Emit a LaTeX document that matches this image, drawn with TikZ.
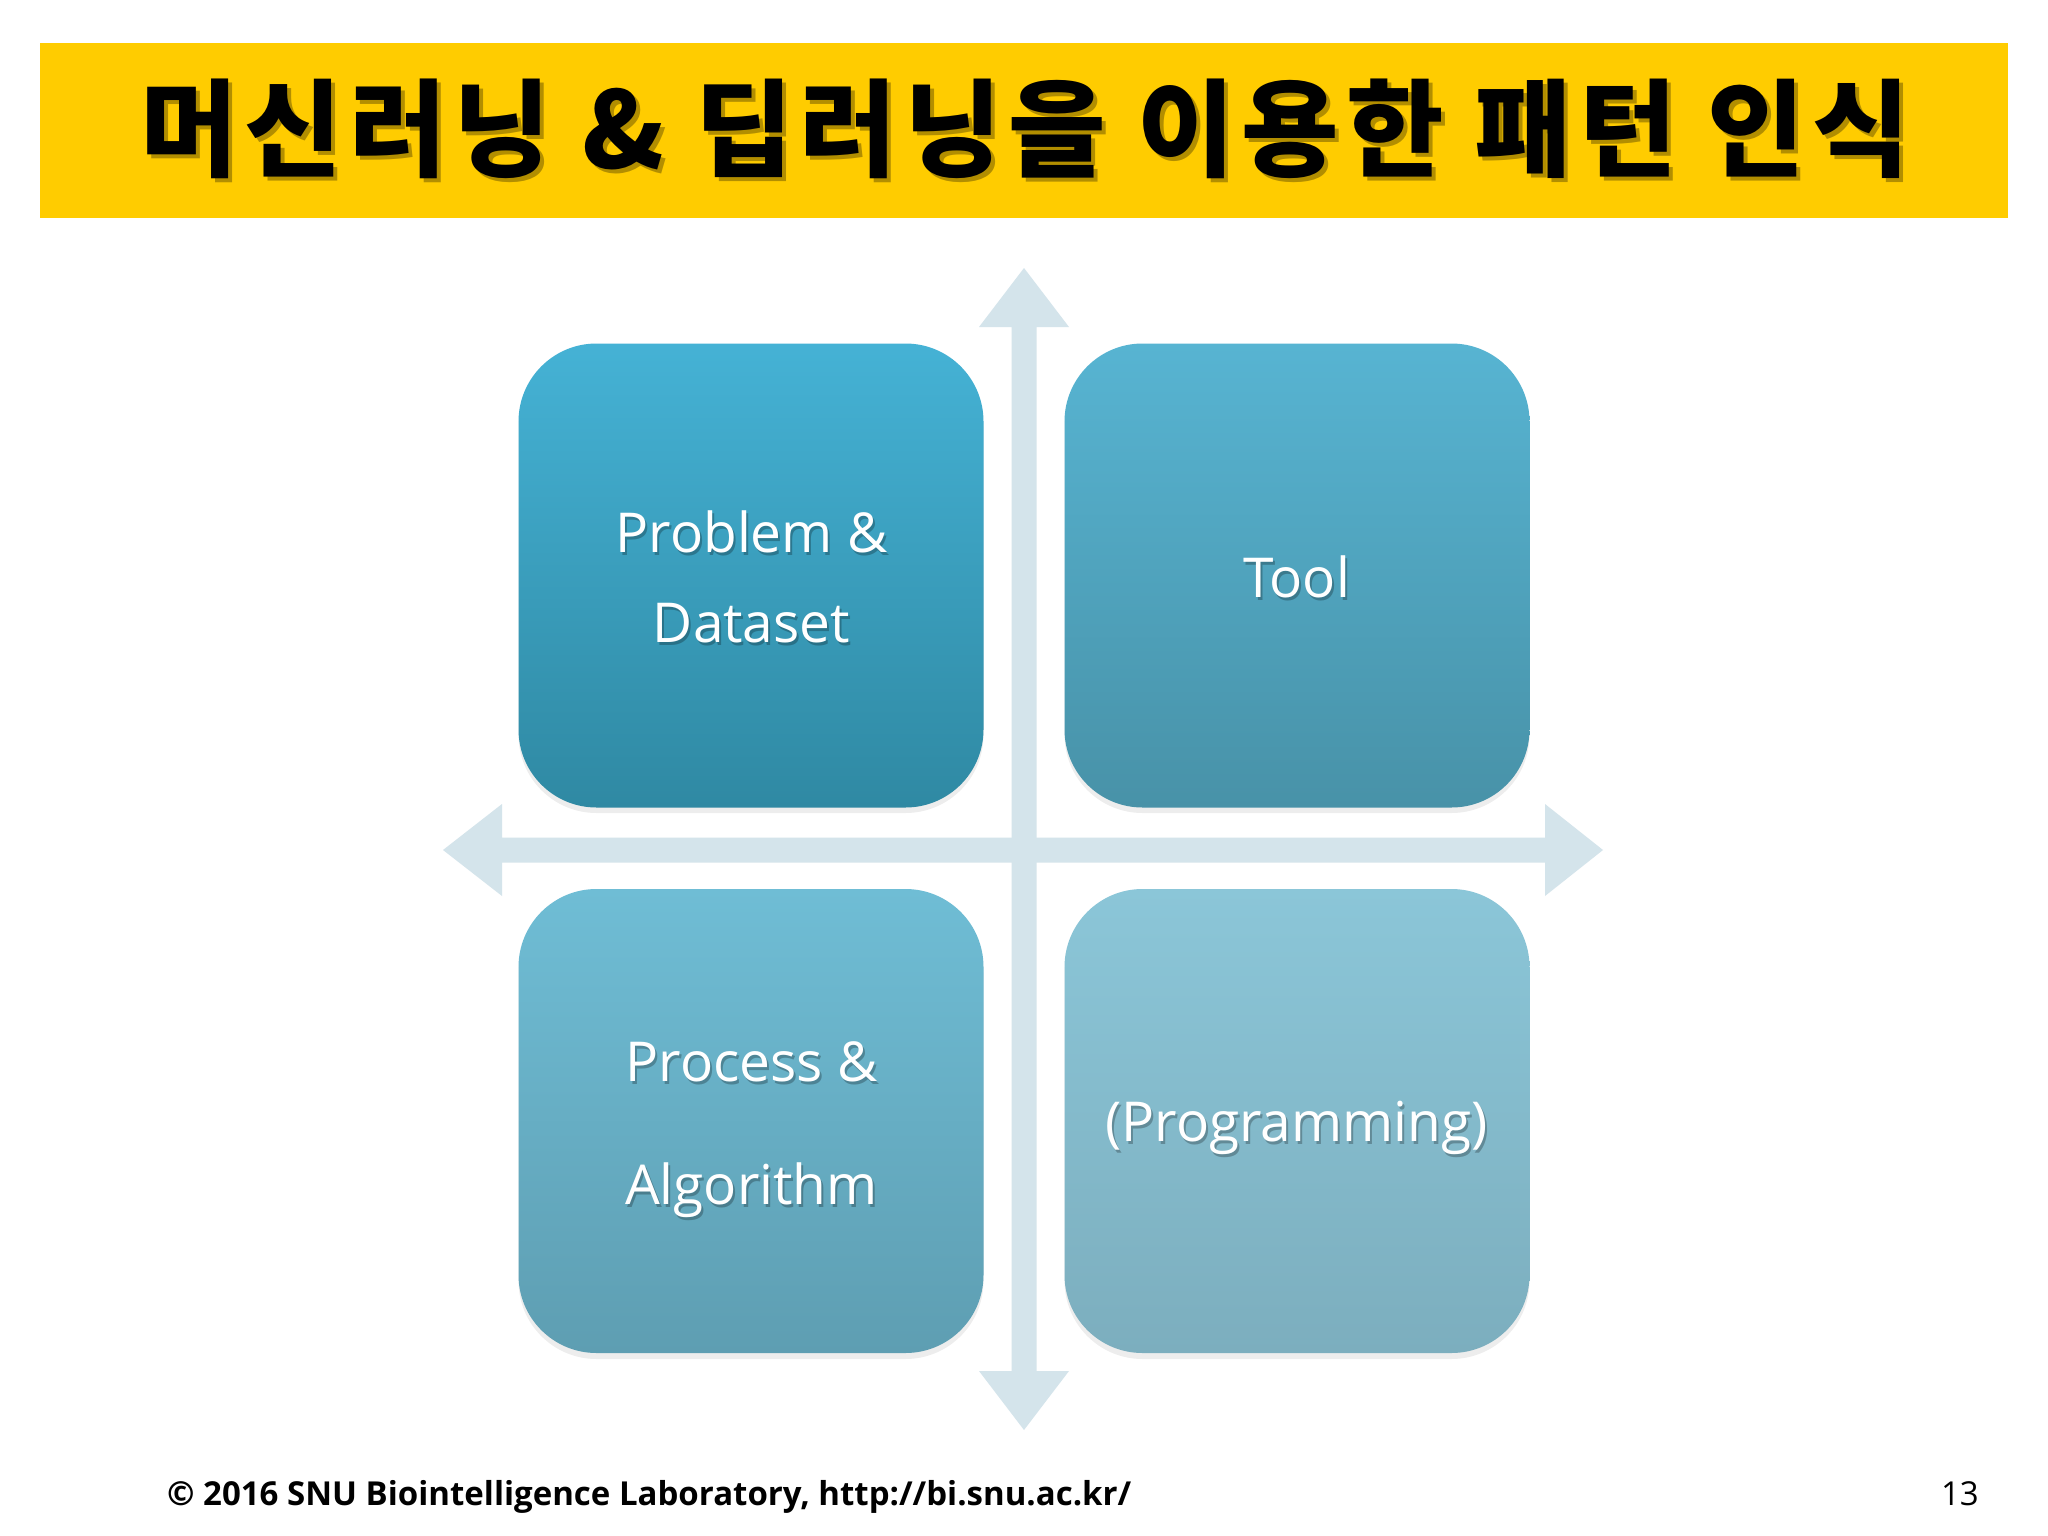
\documentclass[tikz,border=0pt]{standalone}
\usepackage{fontspec}
\setmainfont{Open Sans}
\newfontfamily\krfont{Noto Sans CJK KR}[LetterSpace=6.5]
\definecolor{titlebar}{RGB}{255,204,0}
\definecolor{arrowc}{RGB}{212,228,235}
\definecolor{tlTop}{RGB}{69,178,213}
\definecolor{tlBot}{RGB}{47,137,163}
\definecolor{trTop}{RGB}{87,180,210}
\definecolor{trBot}{RGB}{72,146,168}
\definecolor{blTop}{RGB}{111,189,213}
\definecolor{blBot}{RGB}{94,158,178}
\definecolor{brTop}{RGB}{139,198,216}
\definecolor{brBot}{RGB}{124,174,190}
\tikzset{
  quad/.style={draw=none, rectangle, rounded corners=78pt, minimum width=465pt, minimum height=464pt, inner sep=0pt},
  quadshadow/.style={quad, fill=black, opacity=0.07},
  lbl/.style={text=white, font=\fontsize{55}{60}\selectfont, anchor=base, inner sep=0pt},
  lblshadow/.style={lbl, text=black, opacity=0.25},
  axis/.style={fill=arrowc, draw=none},
  titletext/.style={inner sep=0pt, anchor=base, font=\krfont\bfseries\fontsize{106}{110}\selectfont},
}
\begin{document}
\begin{tikzpicture}[x=1pt,y=-1pt]
\useasboundingbox (0,0) rectangle (2048,1536);
\fill[white] (0,0) rectangle (2048,1536);
% title bar
\fill[titlebar] (40,43) rectangle (2008,218);
\node[titletext, text=black, opacity=0.3] (titleshadow) at (1029,172) {머신러닝 \& 딥러닝을 이용한 패턴 인식};
\node[titletext, text=black] (title) at (1025,168) {머신러닝 \& 딥러닝을 이용한 패턴 인식};
% axes
\coordinate (vtop) at (1024,268);
\coordinate (vbot) at (1024,1430);
\coordinate (hleft) at (443,850);
\coordinate (hright) at (1603,850);
\fill[axis] (hleft) -- (502,804) -- (502,837.5) -- (1545,837.5) -- (1545,804) -- (hright) -- (1545,896) -- (1545,862.5) -- (502,862.5) -- (502,896) -- cycle;
\fill[axis] (vtop) -- (1069,327) -- (1036.5,327) -- (1036.5,1371) -- (1069,1371) -- (vbot) -- (979,1371) -- (1011.5,1371) -- (1011.5,327) -- (979,327) -- cycle;
% box shadows
\node[quadshadow] (s1) at (751,581) {};
\node[quadshadow] (s2) at (1297,581) {};
\node[quadshadow] (s3) at (751,1127) {};
\node[quadshadow] (s4) at (1297,1127) {};
% boxes
\node[quad, top color=tlTop, bottom color=tlBot] (tl) at (751,575.5) {};
\node[quad, top color=trTop, bottom color=trBot] (tr) at (1297,575.5) {};
\node[quad, top color=blTop, bottom color=blBot] (bl) at (751,1121) {};
\node[quad, top color=brTop, bottom color=brBot] (br) at (1297,1121) {};
% labels
\node[lblshadow] (t1s) at (753.5,555) {Problem \&};
\node[lbl] (t1) at (751.5,552) {Problem \&};
\node[lblshadow] (t2s) at (753.5,645) {Dataset};
\node[lbl] (t2) at (751.5,642) {Dataset};
\node[lblshadow] (t3s) at (1298.5,600) {Tool};
\node[lbl] (t3) at (1296.5,597) {Tool};
\node[lblshadow] (t4s) at (753.5,1084) {Process \&};
\node[lbl] (t4) at (751.5,1081) {Process \&};
\node[lblshadow] (t5s) at (753.5,1207) {Algorithm};
\node[lbl] (t5) at (751.5,1204) {Algorithm};
\node[lblshadow] (t6s) at (1298.5,1144.5) {(Programming)};
\node[lbl] (t6) at (1296.5,1141.5) {(Programming)};
% footer
\node[inner sep=0pt, anchor=base west, font=\bfseries\fontsize{33}{36}\selectfont] (foot) at (167,1505) {© 2016 SNU Biointelligence Laboratory, http://bi.snu.ac.kr/};
\node[inner sep=0pt, anchor=base east, font=\fontsize{33}{36}\selectfont] (page) at (1979,1505) {13};
\end{tikzpicture}
\end{document}
